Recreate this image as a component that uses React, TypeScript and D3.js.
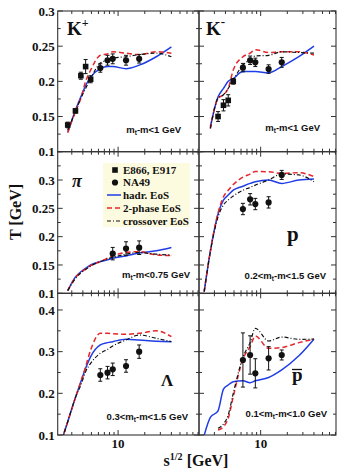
import React from 'react';
import * as d3 from 'd3';

// model grid in sqrt(s) [GeV]
const sqrtS = [2.3, 2.7, 3.3, 3.8, 4.3, 4.9, 6.3, 7.6, 8.7, 12.3, 17.3, 27, 40];
// data energies
const agsS = [2.7, 3.3, 3.8, 4.3, 4.9];
const spsS = [6.3, 7.6, 8.7, 12.3, 17.3];

// K+
const hadrKp = [null, 0.128, 0.159, 0.178, 0.194, 0.206, 0.218, 0.221, 0.221, 0.218, 0.223, 0.235, 0.249];
const twoKp = [null, 0.127, 0.157, 0.176, 0.2, 0.216, 0.237, 0.239, 0.242, 0.24, 0.238, 0.242, 0.24];
const crossKp = [null, 0.131, 0.157, 0.176, 0.19, 0.204, 0.226, 0.23, 0.233, 0.235, 0.238, 0.24, 0.235];
const agsKp = [0.138, 0.158, 0.208, 0.221, 0.203];
const agsKpErr = [0.004, 0.003, 0.005, 0.01, 0.005];
const spsKp = [0.219, 0.23, 0.232, 0.23, 0.232];
const spsKpErr = [0.006, 0.007, 0.007, 0.007, 0.006];

// K-
const hadrKm = [null, 0.1355, 0.178, 0.19, 0.2, 0.204, 0.214, 0.214, 0.214, 0.212, 0.221, 0.235, 0.25];
const twoKm = [null, 0.133, 0.176, 0.181, 0.19, 0.216, 0.235, 0.24, 0.245, 0.241, 0.242, 0.242, 0.2375];
const crossKm = [null, 0.133, 0.176, 0.181, 0.19, 0.202, 0.223, 0.231, 0.236, 0.237, 0.242, 0.241, 0.24];
const agsKm = [null, 0.15, 0.166, 0.173, 0.2];
const agsKmErr = [0, 0.007, 0.008, 0.008, 0.004];
const spsKm = [0.2195, 0.23, 0.227, 0.2175, 0.227];
const spsKmErr = [0.006, 0.006, 0.006, 0.006, 0.007];

// pi
const hadrPi = [null, 0.1047, 0.129, 0.138, 0.144, 0.15, 0.156, 0.159, 0.162, 0.166, 0.171, 0.175, 0.181];
const twoPi = [null, 0.1047, 0.1276, 0.137, 0.143, 0.149, 0.156, 0.162, 0.166, 0.172, 0.1735, 0.168, 0.1665];
const crossPi = [null, 0.1047, 0.126, 0.136, 0.142, 0.148, 0.156, 0.161, 0.1635, 0.169, 0.172, 0.169, 0.1675];
const spsPi = [null, null, 0.17, 0.179, 0.1805];
const spsPiErr = [0, 0, 0.011, 0.012, 0.012];

// p
const hadrP = [0.103, 0.174, 0.24, 0.2646, 0.2735, 0.282, 0.289, 0.294, 0.297, 0.3, 0.294, 0.3, 0.3017];
const twoP = [0.103, 0.174, 0.242, 0.2705, 0.282, 0.292, 0.305, 0.3105, 0.315, 0.3146, 0.3117, 0.313, 0.306];
const crossP = [0.103, 0.1735, 0.235, 0.256, 0.2646, 0.2717, 0.282, 0.287, 0.291, 0.3, 0.3105, 0.309, 0.297];
const spsP = [0.2488, 0.266, 0.2576, 0.2605, 0.309];
const spsPErr = [0.01, 0.01, 0.01, 0.01, 0.008];

// Lambda
const hadrL = [0.086, 0.132, 0.19, 0.228, 0.26, 0.288, 0.316, 0.3216, 0.324, 0.33, 0.328, 0.325, 0.324];
const twoL = [0.086, 0.132, 0.19, 0.228, 0.264, 0.304, 0.344, 0.344, 0.343, 0.3416, 0.344, 0.35, 0.336];
const crossL = [0.086, 0.132, 0.19, 0.22, 0.252, 0.272, 0.296, 0.3056, 0.3136, 0.328, 0.34, 0.332, 0.324];
const spsL = [0.244, 0.2496, 0.2576, 0.2656, 0.3];
const spsLErr = [0.015, 0.015, 0.015, 0.015, 0.016];

// anti-p
const hadrPb = [0.099, 0.142, 0.158, 0.21, 0.22, 0.228, 0.23, 0.2256, 0.23, 0.238, 0.256, 0.29, 0.33];
const twoPb = [null, null, 0.112, 0.12, 0.14, 0.192, 0.2816, 0.312, 0.3376, 0.308, 0.31, 0.3216, 0.33];
const crossPb = [null, null, 0.116, 0.1264, 0.148, 0.2, 0.2864, 0.3216, 0.356, 0.3256, 0.335, 0.3296, 0.33];
const spsPb = [0.28, 0.292, 0.248, 0.284, 0.292];
const spsPbErr = [0.065, 0.046, 0.035, 0.028, 0.012];

// axis ticks
const yTicksRow12 = [0.1, 0.15, 0.2, 0.25, 0.3];
const yTicksRow3 = [0.1, 0.2, 0.3, 0.4];
const xMinor = [3, 4, 5, 6, 7, 8, 9, 20, 30, 40, 50, 60, 70, 80];
const xMajor = [10];

const BLUE = '#1f3de6';
const RED = '#e5262b';
const SERIF = '"Liberation Serif", "Times New Roman", serif';
const SANS = '"Liberation Sans", Arial, sans-serif';

const COLS = [
  { x0: 57.7, x1: 199, dom: [2.08, 82] },
  { x0: 199, x1: 336, dom: [2.01, 71] },
];
const ROWS = [
  { y0: 11, y1: 151.7, dom: [0.1, 0.3], ticks: yTicksRow12, minor: 0.025 },
  { y0: 151.7, y1: 293.3, dom: [0.1, 0.35], ticks: yTicksRow12, minor: 0.025 },
  { y0: 293.3, y1: 435, dom: [0.1, 0.44], ticks: yTicksRow3, minor: 0.05 },
];

const PANELS = [
  { col: 0, row: 0, hadr: hadrKp, two: twoKp, cross: crossKp, ags: agsKp, agsErr: agsKpErr, sps: spsKp, spsErr: spsKpErr, note: ['', '-m<1 GeV'], noteX: 181, noteY: 133 },
  { col: 1, row: 0, hadr: hadrKm, two: twoKm, cross: crossKm, ags: agsKm, agsErr: agsKmErr, sps: spsKm, spsErr: spsKmErr, note: ['', '-m<1 GeV'], noteX: 320, noteY: 131 },
  { col: 0, row: 1, hadr: hadrPi, two: twoPi, cross: crossPi, ags: null, agsErr: null, sps: spsPi, spsErr: spsPiErr, note: ['', '-m<0.75 GeV'], noteX: 190, noteY: 278 },
  { col: 1, row: 1, hadr: hadrP, two: twoP, cross: crossP, ags: null, agsErr: null, sps: spsP, spsErr: spsPErr, note: ['0.2<', '-m<1.5 GeV'], noteX: 326, noteY: 279 },
  { col: 0, row: 2, hadr: hadrL, two: twoL, cross: crossL, ags: null, agsErr: null, sps: spsL, spsErr: spsLErr, note: ['0.3<', '-m<1.5 GeV'], noteX: 188, noteY: 420 },
  { col: 1, row: 2, hadr: hadrPb, two: twoPb, cross: crossPb, ags: null, agsErr: null, sps: spsPb, spsErr: spsPbErr, note: ['0.1<', '-m<1.0 GeV'], noteX: 327, noteY: 417 },
];

function Note({ x, y, parts }: any) {
  return (
    <text x={x} y={y} textAnchor="end" fontFamily={SANS} fontWeight="bold" fontSize={9.5} fill="#111">
      {parts[0]}m<tspan dy={2} fontSize={6.5}>t</tspan><tspan dy={-2}>{parts[1]}</tspan>
    </text>
  );
}

function Panel({ p, i }: any) {
  const c = COLS[p.col];
  const r = ROWS[p.row];
  const xs = d3.scaleLog().domain(c.dom).range([c.x0, c.x1]);
  const ys = d3.scaleLinear().domain(r.dom).range([r.y1, r.y0]);
  const mk = (vals: (number | null)[]) =>
    d3.line<number>()
      .defined((_, k) => vals[k] != null)
      .x(d => xs(d))
      .y((_, k) => ys(vals[k] as number))
      .curve(d3.curveMonotoneX)(sqrtS) || '';

  const minorY = d3.range(r.dom[0], r.dom[1] + 1e-9, r.minor);
  const ticks: JSX.Element[] = [];
  minorY.forEach((v, k) => {
    const major = r.ticks.some(t => Math.abs(t - v) < 1e-6);
    const len = major ? 5 : 3;
    const y = ys(v);
    ticks.push(<line key={'yl' + k} x1={c.x0} x2={c.x0 + len} y1={y} y2={y} />);
    ticks.push(<line key={'yr' + k} x1={c.x1} x2={c.x1 - len} y1={y} y2={y} />);
  });
  [...xMinor, ...xMajor].forEach((v, k) => {
    if (v <= c.dom[0] || v >= c.dom[1]) return;
    const len = xMajor.includes(v) ? 5 : 3;
    const x = xs(v);
    ticks.push(<line key={'xb' + k} x1={x} x2={x} y1={r.y1} y2={r.y1 - len} />);
    ticks.push(<line key={'xt' + k} x1={x} x2={x} y1={r.y0} y2={r.y0 + len} />);
  });

  const errBars = (xv: number[], vals: (number | null)[], errs: number[]) =>
    xv.map((x, k) => {
      const v = vals[k];
      if (v == null || !errs[k]) return null;
      const px = xs(x);
      return (
        <g key={k}>
          <line x1={px} x2={px} y1={ys(v - errs[k])} y2={ys(v + errs[k])} />
          <line x1={px - 2} x2={px + 2} y1={ys(v - errs[k])} y2={ys(v - errs[k])} />
          <line x1={px - 2} x2={px + 2} y1={ys(v + errs[k])} y2={ys(v + errs[k])} />
        </g>
      );
    });

  return (
    <g>
      <defs>
        <clipPath id={'clip' + i}>
          <rect x={c.x0} y={r.y0} width={c.x1 - c.x0} height={r.y1 - r.y0} />
        </clipPath>
      </defs>
      <g clipPath={`url(#clip${i})`} fill="none">
        <path d={mk(p.hadr)} stroke={BLUE} strokeWidth={1.5} />
        <path d={mk(p.two)} stroke={RED} strokeWidth={1.5} strokeDasharray="5,3" />
        <path d={mk(p.cross)} stroke="#111" strokeWidth={1.2} strokeDasharray="4,2,1,2" />
      </g>
      <g stroke="#111" strokeWidth={1}>
        {p.ags && errBars(agsS, p.ags, p.agsErr)}
        {errBars(spsS, p.sps, p.spsErr)}
      </g>
      <g fill="#111">
        {p.ags && agsS.map((x, k) => p.ags[k] == null ? null : (
          <rect key={k} x={xs(x) - 2.8} y={ys(p.ags[k]) - 2.8} width={5.6} height={5.6} />
        ))}
        {spsS.map((x, k) => p.sps[k] == null ? null : (
          <circle key={k} cx={xs(x)} cy={ys(p.sps[k])} r={3.1} />
        ))}
      </g>
      <rect x={c.x0} y={r.y0} width={c.x1 - c.x0} height={r.y1 - r.y0} fill="none" stroke="#333" strokeWidth={1.1} />
      <g stroke="#333" strokeWidth={1}>{ticks}</g>
      {p.col === 0 && r.ticks.map(t => (
        <text key={t} x={c.x0 - 3} y={ys(t)} dy="0.35em" textAnchor="end" fontFamily={SERIF} fontWeight="bold" fontSize={13} fill="#111">
          {String(t)}
        </text>
      ))}
      {p.row === 2 && xMajor.map(t => (
        <text key={t} x={xs(t)} y={448} textAnchor="middle" fontFamily={SERIF} fontWeight="bold" fontSize={13} fill="#111">
          {t}
        </text>
      ))}
      <Note x={p.noteX} y={p.noteY} parts={p.note} />
    </g>
  );
}

function Legend() {
  const x0 = 103, y0 = 163;
  const rows = [170, 182.5, 195, 208, 221];
  const tx = 123;
  const txt = (y: number, s: string) => (
    <text x={tx} y={y} dy="0.35em" fontFamily={SERIF} fontWeight="bold" fontSize={11} fill="#111">{s}</text>
  );
  return (
    <g>
      <rect x={x0} y={y0} width={87} height={64} fill="#fdfbdf" />
      <rect x={112.2} y={rows[0] - 2.8} width={5.6} height={5.6} fill="#111" />
      {txt(rows[0], 'E866, E917')}
      <circle cx={115} cy={rows[1]} r={3.1} fill="#111" />
      {txt(rows[1], 'NA49')}
      <line x1={107} x2={121} y1={rows[2]} y2={rows[2]} stroke={BLUE} strokeWidth={1.5} />
      {txt(rows[2], 'hadr. EoS')}
      <line x1={107} x2={121} y1={rows[3]} y2={rows[3]} stroke={RED} strokeWidth={1.5} strokeDasharray="5,3" />
      {txt(rows[3], '2-phase EoS')}
      <line x1={107} x2={121} y1={rows[4]} y2={rows[4]} stroke="#111" strokeWidth={1.2} strokeDasharray="4,2,1,2" />
      {txt(rows[4], 'crossover EoS')}
    </g>
  );
}

export default function App() {
  return (
    <div style={{ position: 'absolute', left: 0, top: 0 }}>
      <svg width={337} height={469} style={{ display: 'block', background: '#fff' }}>
        {PANELS.map((p, i) => <Panel key={i} p={p} i={i} />)}
        <Legend />
        <g fontFamily={SERIF} fontWeight="bold" fill="#111">
          <text x={67} y={35} fontSize={19}>K<tspan dy={-8} fontSize={12}>+</tspan></text>
          <text x={206} y={35} fontSize={19}>K<tspan dy={-9} fontSize={13}>-</tspan></text>
          <text x={72} y={187} fontSize={18} fontStyle="italic">π</text>
          <text x={287} y={241} fontSize={21}>p</text>
          <text x={161} y={386} fontSize={17}>Λ</text>
          <text x={292} y={381} fontSize={19}>p</text>
          <line x1={292} x2={302} y1={369.5} y2={369.5} stroke="#111" strokeWidth={1.3} />
          <text x={196} y={466} fontSize={16} textAnchor="middle">
            s<tspan dy={-6} fontSize={10}>1/2</tspan><tspan dy={6}> [GeV]</tspan>
          </text>
          <text transform="translate(21,212) rotate(-90)" fontSize={16} textAnchor="middle">T [GeV]</text>
        </g>
      </svg>
    </div>
  );
}
